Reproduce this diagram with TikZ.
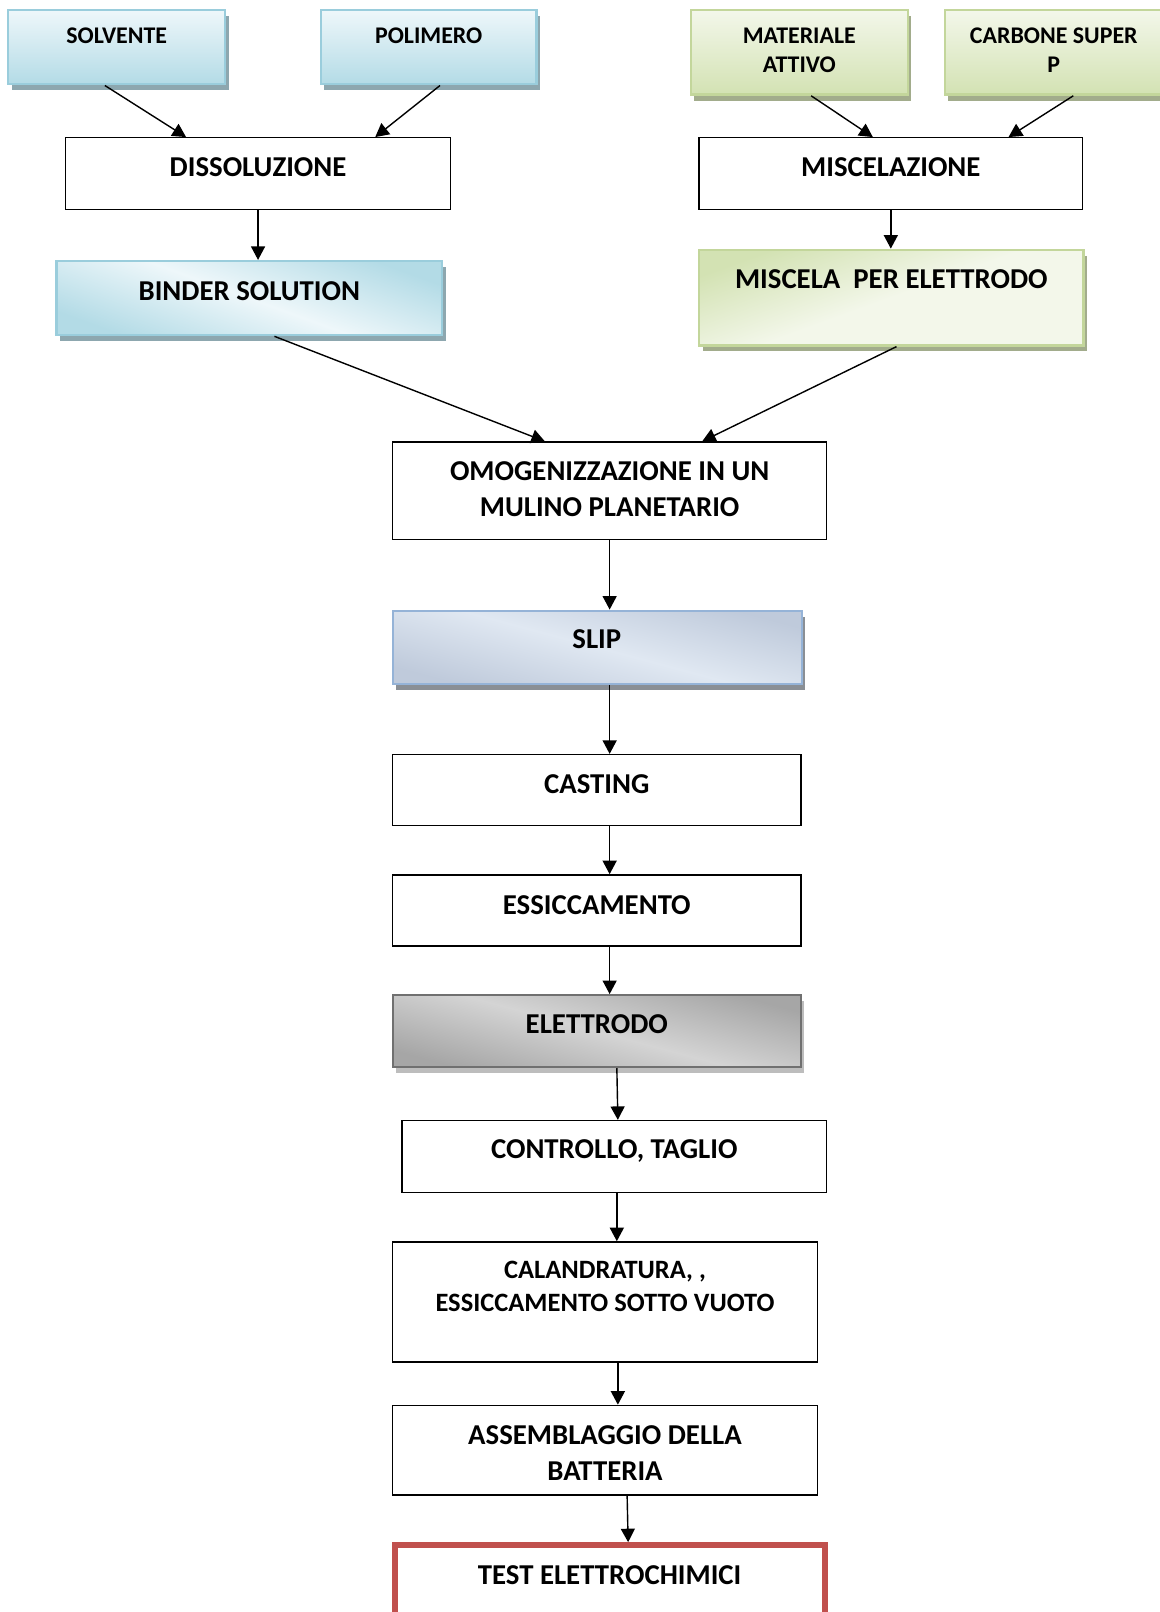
\documentclass[tikz,border=0pt]{standalone}
\usepackage{fontspec}
\setmainfont{Carlito}
\usetikzlibrary{arrows.meta,fit,calc,shadows}
\definecolor{blfill}{HTML}{B3DBE6}
\definecolor{bltop}{HTML}{EEF7FA}
\definecolor{blline}{HTML}{9ACDDC}
\definecolor{blshad}{HTML}{8DA7AF}
\definecolor{grfill}{HTML}{D3E2B3}
\definecolor{grtop}{HTML}{F3F7EA}
\definecolor{grline}{HTML}{C3D69B}
\definecolor{grshad}{HTML}{A2AC8C}
\definecolor{slfill}{HTML}{BFCADB}
\definecolor{sltop}{HTML}{E0E8F2}
\definecolor{slline}{HTML}{95B3D7}
\definecolor{slshad}{HTML}{8A8F95}
\definecolor{elfill}{HTML}{A6A6A6}
\definecolor{eltop}{HTML}{D4D4D4}
\definecolor{elline}{HTML}{707070}
\definecolor{elshad}{HTML}{BDBDBD}
\definecolor{testred}{HTML}{C0504D}
\begin{document}
\begin{tikzpicture}[x=1.02837pt,y=-1.02837pt,
  box/.style={draw=black, line width=1.4pt, inner sep=0pt, fill=white},
  shad/.style={drop shadow={shadow xshift=3.5pt, shadow yshift=-6pt, opacity=1, fill=#1}},
  bluebox/.style={draw=blline, line width=2.4pt, inner sep=0pt, top color=bltop, bottom color=blfill, shad=blshad},
  greenbox/.style={draw=grline, line width=2.4pt, inner sep=0pt, top color=grtop, bottom color=grfill, shad=grshad},
  slipbox/.style={draw=slline, line width=2.2pt, inner sep=0pt, shading=axis, top color=slfill, bottom color=slfill, middle color=sltop, shading angle=-15, shad=slshad},
  elbox/.style={draw=elline, line width=2.2pt, inner sep=0pt, shading=axis, top color=elfill, bottom color=elfill, middle color=eltop, shading angle=-15, shad=elshad},
  tbig/.style={font=\fontsize{28.8}{36}\selectfont\bfseries, align=center, inner sep=0pt},
  tmid/.style={font=\fontsize{26.5}{32.9}\selectfont\bfseries, align=center, inner sep=0pt},
  tsmall/.style={font=\fontsize{23.9}{28.8}\selectfont\bfseries, align=center, inner sep=0pt},
  arr/.style={-{Triangle[length=13.5pt,width=14pt]}, line width=1.4pt}
]
\useasboundingbox (0,0) rectangle (1128,1568);
\fill[white] (0,0) rectangle (1128,1568);

% top boxes
\node[bluebox, fit={(8,10) (219,82)}] (solv) {};
\node[bluebox, fit={(312,10) (522,82)}] (poli) {};
\node[greenbox, fit={(672,10) (883,92)}] (mat) {};
\node[greenbox, fit={(919,10) (1131,92)}] (carb) {};
\node[tsmall] (solv-t) at (113.5,35) {SOLVENTE};
\node[tsmall] (poli-t) at (417,35) {POLIMERO};
\node[tsmall] (mat-t) at (777.5,49) {MATERIALE\\ATTIVO};
\node[tsmall] (carb-t) at (1025,49) {CARBONE SUPER\\P};

% second row
\node[box, fit={(64,134) (438,204)}] (diss) {};
\node[box, fit={(680,134) (1053,204)}] (misc) {};
\node[tbig] (diss-t) at (251,163) {DISSOLUZIONE};
\node[tbig] (misc-t) at (866.5,163) {MISCELAZIONE};

% third row
\node[bluebox, shading=axis, top color=blfill, bottom color=blfill, middle color=bltop, shading angle=-20, fit={(55,254) (430,326)}] (binder) {};
\node[greenbox, shading=axis, top color=grfill, bottom color=grtop, middle color=grtop, shading angle=20, fit={(680,243) (1054,336)}] (miscela) {};
\node[tbig] (binder-t) at (242.5,283) {BINDER SOLUTION};
\node[tbig] (miscela-t) at (867,272) {MISCELA\ \ PER ELETTRODO};

% main column
\node[box, fit={(382,430) (804,525)}] (omog) {};
\node[tbig] (omog-t) at (593,475.5) {OMOGENIZZAZIONE IN UN\\MULINO PLANETARIO};
\node[slipbox, fit={(382,594) (780,665)}] (slip) {};
\node[tbig] (slip-t) at (580.5,622) {SLIP};
\node[box, fit={(382,734) (779,803)}] (cast) {};
\node[tbig] (cast-t) at (580.5,763) {CASTING};
\node[box, fit={(382,851) (779,920)}] (ess) {};
\node[tbig] (ess-t) at (580.5,880) {ESSICCAMENTO};
\node[elbox, fit={(382,968) (779,1038)}] (elet) {};
\node[tbig] (elet-t) at (580.5,996) {ELETTRODO};
\node[box, fit={(391,1090) (804,1160)}] (ctrl) {};
\node[tbig, text depth=0pt] (ctrl-t) at (597.5,1118) {CONTROLLO, TAGLIO};
\node[box, fit={(382,1208) (795,1325)}] (cal) {};
\node[tmid] (cal-t) at (588.5,1251) {CALANDRATURA, ,\\ESSICCAMENTO SOTTO VUOTO};
\node[box, fit={(382,1367) (795,1454)}] (ass) {};
\node[tbig] (ass-t) at (588.5,1413.5) {ASSEMBLAGGIO DELLA\\BATTERIA};
\node[draw=testred, line width=6pt, fill=white, inner sep=0pt, fit={(384,1503) (802,1600)}] (test) {};
\node[tbig] (test-t) at (593,1532) {TEST ELETTROCHIMICI};

% connectors
\draw[arr] ($(solv.south)+(-11.5,0)$) -- ($(diss.north)+(-70,0)$);
\draw[arr] ($(poli.south)+(11,0)$) -- ($(diss.north)+(114,0)$);
\draw[arr] ($(mat.south)+(11.5,0)$) -- ($(misc.north)+(-17.5,0)$);
\draw[arr] ($(carb.south)+(19,0)$) -- ($(misc.north)+(114.5,0)$);
\draw[arr] (diss.south) -- (diss.south |- binder.north);
\draw[arr] (misc.south) -- (misc.south |- miscela.north);
\draw[arr] ($(binder.south)+(24.5,0)$) -- ($(omog.north)+(-63,0)$);
\draw[arr] ($(miscela.south)+(5,0)$) -- ($(omog.north)+(90,0)$);
\draw[arr] (omog.south) -- (omog.south |- slip.north);
\draw[arr] (omog.south |- slip.south) -- (omog.south |- cast.north);
\draw[arr] (omog.south |- cast.south) -- (omog.south |- ess.north);
\draw[arr] (omog.south |- ess.south) -- (omog.south |- elet.north);
\draw[arr] ($(elet.south)+(19.5,0)$) -- ($(ctrl.north)+(3.5,0)$);
\draw[arr] ($(ctrl.south)+(2.5,0)$) -- ($(ctrl.south |- cal.north)+(2.5,0)$);
\draw[arr] ($(cal.south)+(12.5,0)$) -- ($(ass.north)+(12.5,0)$);
\draw[arr] ($(ass.south)+(21.5,0)$) -- ($(test.north)+(18,0)$);
\end{tikzpicture}
\end{document}
